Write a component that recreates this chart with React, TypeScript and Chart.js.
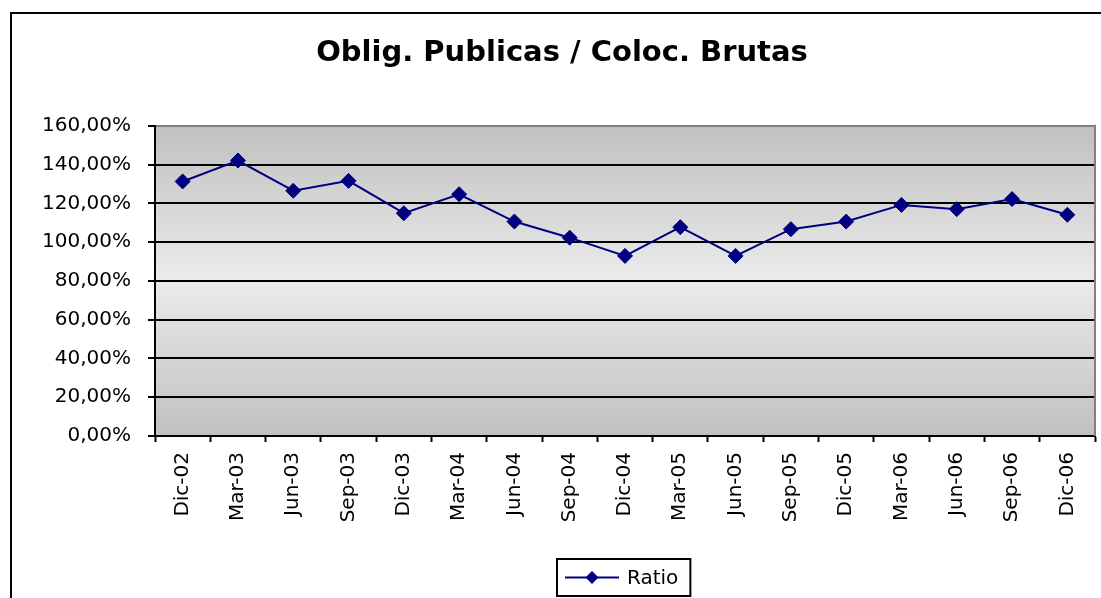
import React, { useEffect, useRef } from 'react';
import { Chart, registerables } from 'chart.js';

Chart.register(...registerables);

const chartTitle = 'Oblig. Publicas / Coloc. Brutas';
const seriesLabel = 'Ratio';
const categories = [
  'Dic-02', 'Mar-03', 'Jun-03', 'Sep-03', 'Dic-03', 'Mar-04', 'Jun-04', 'Sep-04',
  'Dic-04', 'Mar-05', 'Jun-05', 'Sep-05', 'Dic-05', 'Mar-06', 'Jun-06', 'Sep-06', 'Dic-06',
];
const ratioValues = [
  131.3, 142.1, 126.5, 131.6, 114.9, 124.7, 110.6, 102.3,
  92.9, 107.7, 92.9, 106.7, 110.6, 119.2, 117.0, 122.2, 114.1,
];
const yTickValues = [0, 20, 40, 60, 80, 100, 120, 140, 160];

const FONT = '"DejaVu Sans", Verdana, sans-serif';
const NAVY = '#000080';

const framePlugin = {
  id: 'frame',
  beforeDraw(chart: any) {
    const { ctx, chartArea, width, height } = chart;
    ctx.save();
    ctx.fillStyle = '#ffffff';
    ctx.fillRect(0, 0, width, height);
    // outer chart border
    ctx.strokeStyle = '#000000';
    ctx.lineWidth = 2;
    ctx.strokeRect(11, 13, width + 100, height + 100);
    // plot area gradient
    const g = ctx.createLinearGradient(0, chartArea.top, 0, chartArea.bottom);
    g.addColorStop(0, '#c0c0c0');
    g.addColorStop(0.5, '#ebebeb');
    g.addColorStop(1, '#c0c0c0');
    ctx.fillStyle = g;
    ctx.fillRect(chartArea.left, chartArea.top, chartArea.right - chartArea.left, chartArea.bottom - chartArea.top);
    ctx.restore();
  },
  beforeDatasetsDraw(chart: any) {
    const { ctx, chartArea } = chart;
    ctx.save();
    ctx.strokeStyle = '#808080';
    ctx.lineWidth = 2;
    ctx.beginPath();
    ctx.moveTo(chartArea.right, chartArea.top - 1);
    ctx.lineTo(chartArea.right, chartArea.bottom);
    ctx.stroke();
    ctx.restore();
  },
};

const boxLegendPlugin = {
  id: 'boxLegend',
  afterDraw(chart: any) {
    const { ctx, chartArea } = chart;
    const label = chart.data.datasets[0].label;
    ctx.save();
    ctx.font = `20px ${FONT}`;
    const tw = ctx.measureText(label).width;
    const padL = 8, lineLen = 54, gap = 8, padR = 12;
    const boxW = padL + lineLen + gap + tw + padR;
    const boxH = 37;
    const cx = (chartArea.left + chartArea.right) / 2 - 1.5;
    const bx = Math.round(cx - boxW / 2);
    const by = 559;
    ctx.fillStyle = '#ffffff';
    ctx.fillRect(bx, by, boxW, boxH);
    ctx.strokeStyle = '#000000';
    ctx.lineWidth = 2;
    ctx.strokeRect(bx, by, boxW, boxH);
    const my = by + boxH / 2;
    ctx.strokeStyle = NAVY;
    ctx.lineWidth = 2;
    ctx.beginPath();
    ctx.moveTo(bx + padL, my);
    ctx.lineTo(bx + padL + lineLen, my);
    ctx.stroke();
    const px = bx + padL + lineLen / 2;
    const r = 6.5;
    ctx.fillStyle = NAVY;
    ctx.beginPath();
    ctx.moveTo(px, my - r);
    ctx.lineTo(px + r, my);
    ctx.lineTo(px, my + r);
    ctx.lineTo(px - r, my);
    ctx.closePath();
    ctx.fill();
    ctx.fillStyle = '#000000';
    ctx.textAlign = 'left';
    ctx.textBaseline = 'middle';
    ctx.fillText(label, bx + padL + lineLen + gap, my + 1);
    ctx.restore();
  },
};

export default function App() {
  const canvasRef = useRef<HTMLCanvasElement | null>(null);

  useEffect(() => {
    if (!canvasRef.current) return;
    const chart = new Chart(canvasRef.current, {
      type: 'line',
      data: {
        labels: categories,
        datasets: [
          {
            label: seriesLabel,
            data: ratioValues,
            borderColor: NAVY,
            backgroundColor: NAVY,
            borderWidth: 2,
            pointStyle: 'rectRot',
            pointRadius: 7.5,
            pointBorderWidth: 1,
            pointBackgroundColor: NAVY,
            pointBorderColor: NAVY,
            tension: 0,
            fill: false,
          },
        ],
      },
      options: {
        responsive: false,
        animation: false,
        devicePixelRatio: 1,
        layout: { autoPadding: false, padding: { left: 29, right: 6, top: 0, bottom: 0 } },
        plugins: {
          legend: { display: false },
          tooltip: { enabled: false },
          title: {
            display: true,
            text: chartTitle,
            color: '#000000',
            font: { family: FONT, size: 29, weight: 'bold', lineHeight: 1.2 },
            padding: { top: 36, bottom: 55 },
          },
        },
        scales: {
          x: {
            type: 'category',
            offset: true,
            afterFit: (s: any) => {
              s.height = 162;
              s.paddingLeft = 0;
              s.paddingRight = 0;
            },
            grid: {
              offset: true,
              drawOnChartArea: false,
              drawTicks: true,
              tickLength: 6,
              tickColor: '#000000',
              tickWidth: 2,
            },
            border: { display: true, color: '#000000', width: 2 },
            ticks: {
              color: '#000000',
              font: { family: FONT, size: 20 },
              minRotation: 90,
              maxRotation: 90,
              autoSkip: false,
              padding: 10,
            },
          },
          y: {
            min: 0,
            max: 160,
            afterFit: (s: any) => {
              s.width = 126;
              s.paddingTop = 0;
              s.paddingBottom = 0;
            },
            afterBuildTicks: (s: any) => { s.ticks = yTickValues.map((v) => ({ value: v })); },
            grid: {
              color: (c: any) => (c.tick && c.tick.value === 160 ? '#808080' : '#000000'),
              lineWidth: 2,
              drawTicks: true,
              tickLength: 7,
              tickColor: '#000000',
              tickWidth: 2,
            },
            border: { display: true, color: '#000000', width: 2 },
            ticks: {
              color: '#000000',
              font: { family: FONT, size: 20 },
              padding: 17,
              callback: (v: any) => Number(v).toFixed(2).replace('.', ',') + '%',
            },
          },
        },
      },
      plugins: [framePlugin, boxLegendPlugin],
    } as any);
    return () => chart.destroy();
  }, []);

  return (
    <div style={{ position: 'fixed', left: 0, top: 0, width: 1101, height: 598, background: '#fff' }}>
      <canvas ref={canvasRef} width={1101} height={598} style={{ display: 'block' }} />
    </div>
  );
}
